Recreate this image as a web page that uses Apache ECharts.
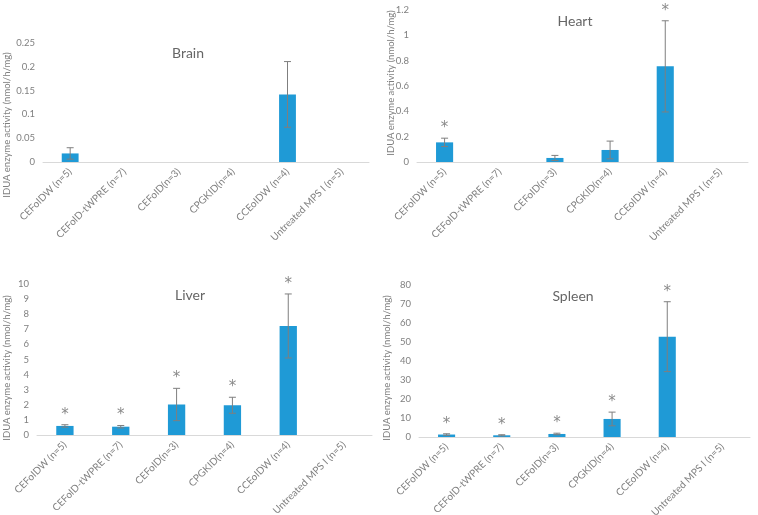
<!DOCTYPE html>
<html>
<head>
<meta charset="utf-8">
<script src="https://cdn.jsdelivr.net/npm/echarts@6/dist/echarts.min.js"></script>
<style>html,body{margin:0;padding:0;background:#fff}#c{width:758px;height:515px}</style>
</head>
<body>
<div id="c"></div>
<script>
var categories = ['CEFoIDW (n=5)', 'CEFoID-tWPRE (n=7)', 'CEFoID(n=3)', 'CPGKID(n=4)', 'CCEoIDW (n=4)', 'Untreated MPS I (n=5)'];
var panelTitles = ['Brain', 'Heart', 'Liver', 'Spleen'];
var yAxisTitle = 'IDUA enzyme activity (nmol/h/mg)';

var brainMean = [0.018, 0, 0, 0, 0.142, 0];
var brainErr  = [0.012, 0, 0, 0, 0.069, 0];
var brainStar = [0, 0, 0, 0, 0, 0];

var heartMean = [0.155, 0, 0.032, 0.095, 0.755, 0];
var heartErr  = [0.033, 0, 0.02, 0.07, 0.36, 0];
var heartStar = [1, 0, 0, 0, 1, 0];

var liverMean = [0.6, 0.55, 2.02, 1.97, 7.22, 0];
var liverErr  = [0.08, 0.08, 1.07, 0.53, 2.12, 0];
var liverStar = [1, 1, 1, 1, 1, 0];

var spleenMean = [1.3, 0.9, 1.6, 9.5, 52.8, 0];
var spleenErr  = [0.4, 0.3, 0.4, 3.6, 18.4, 0];
var spleenStar = [1, 1, 1, 1, 1, 0];

var yMax = [0.25, 1.2, 10, 80];
var yInterval = [0.05, 0.2, 1, 10];

var means = [brainMean, heartMean, liverMean, spleenMean];
var errs = [brainErr, heartErr, liverErr, spleenErr];
var stars = [brainStar, heartStar, liverStar, spleenStar];

var FONT = 'Lato';
var grids = [
  {left: 43, top: 43, width: 326, height: 119, outerBoundsMode: 'none'},
  {left: 417, top: 10, width: 331, height: 152, outerBoundsMode: 'none'},
  {left: 37, top: 284, width: 335, height: 151, outerBoundsMode: 'none'},
  {left: 419, top: 285, width: 331, height: 152, outerBoundsMode: 'none'}
];
var titlePos = [[183, 41], [570, 9], [185, 283], [568, 284]];
var yTitlePos = [[7, 125], [391, 83], [7, 368], [387, 368]];

var chart = echarts.init(document.getElementById('c'));
var xAxes = [], yAxes = [], series = [], titles = [], graphics = [];

for (var p = 0; p < 4; p++) {
  xAxes.push({
    type: 'category', gridIndex: p, data: categories,
    axisLine: {lineStyle: {color: '#d9d9d9', width: 1}},
    axisTick: {show: false},
    axisLabel: {rotate: 45, interval: 0, fontFamily: FONT, fontSize: 10, color: '#808080', margin: 8}
  });
  yAxes.push({
    type: 'value', gridIndex: p, min: 0, max: yMax[p], interval: yInterval[p],
    axisLine: {show: false}, axisTick: {show: false}, splitLine: {show: false},
    axisLabel: {fontFamily: FONT, fontSize: 9.5, color: '#808080', margin: 8}
  });
  series.push({
    type: 'bar', xAxisIndex: p, yAxisIndex: p, data: means[p], barWidth: '31%',
    itemStyle: {color: '#1f9ad6'}, silent: true
  });
  var cd = [];
  for (var i = 0; i < categories.length; i++) cd.push([i, means[p][i], errs[p][i], stars[p][i]]);
  series.push({
    type: 'custom', xAxisIndex: p, yAxisIndex: p, data: cd, silent: true, z: 5,
    encode: {x: 0, y: 1},
    renderItem: function (params, api) {
      var i = api.value(0), v = api.value(1), e = api.value(2), s = api.value(3);
      var children = [];
      var top = api.coord([i, v + e]);
      var bot = api.coord([i, v - e]);
      var st = {stroke: '#7f7f7f', lineWidth: 1};
      if (e > 0) {
        children.push({type: 'line', shape: {x1: top[0], y1: top[1], x2: bot[0], y2: bot[1]}, style: st});
        children.push({type: 'line', shape: {x1: top[0] - 3.5, y1: top[1], x2: top[0] + 3.5, y2: top[1]}, style: st});
        children.push({type: 'line', shape: {x1: bot[0] - 3.5, y1: bot[1], x2: bot[0] + 3.5, y2: bot[1]}, style: st});
      }
      if (s) {
        children.push({type: 'text', x: top[0], y: top[1] - 10,
          style: {text: '*', fontFamily: 'DejaVu Sans', fontSize: 15, fill: '#8a8a8a', align: 'center', verticalAlign: 'middle'}});
      }
      return {type: 'group', children: children};
    }
  });
  titles.push({
    text: panelTitles[p], left: titlePos[p][0], top: titlePos[p][1], textAlign: 'center',
    textStyle: {fontFamily: FONT, fontSize: 14, fontWeight: 'normal', color: '#666666'}
  });
  graphics.push({
    type: 'text', x: yTitlePos[p][0], y: yTitlePos[p][1], rotation: Math.PI / 2,
    style: {text: yAxisTitle, fontFamily: FONT, fontSize: 9.5, fill: '#808080', align: 'center', verticalAlign: 'middle'}
  });
}

chart.setOption({
  animation: false,
  backgroundColor: '#ffffff',
  title: titles,
  grid: grids,
  xAxis: xAxes,
  yAxis: yAxes,
  series: series,
  graphic: graphics
});
</script>
</body>
</html>
